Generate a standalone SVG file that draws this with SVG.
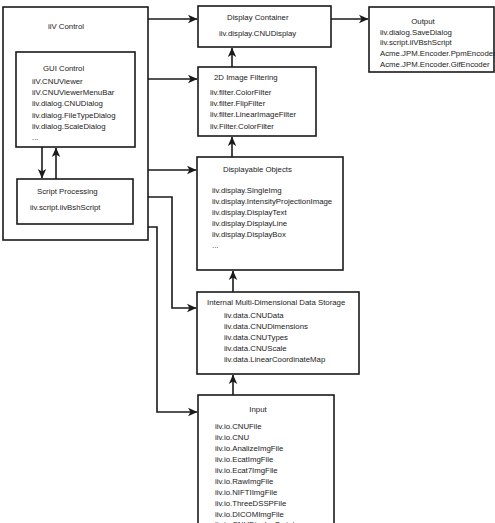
<svg xmlns="http://www.w3.org/2000/svg" width="495" height="523" viewBox="0 0 495 523">
<style>
.box{fill:#fff;stroke:#1a1a1a;stroke-width:1.6}
.t{font-family:"Liberation Sans",Arial,sans-serif;font-size:7.8px;fill:#222}
.c{fill:none;stroke:#1a1a1a;stroke-width:1.6}
</style>
<defs>
<marker id="ah" markerWidth="10" markerHeight="10" refX="9" refY="5" orient="auto" markerUnits="userSpaceOnUse">
<path d="M0,0.8 L9.5,5 L0,9.2 L2.5,5 Z" fill="#1a1a1a"/>
</marker>
</defs>
<rect width="495" height="523" fill="#fff"/>
<g id="iiv-control">
<rect class="box" x="3" y="7" width="145" height="233"/>
<text class="t" x="48" y="29">iiV Control</text>
</g>
<g id="gui-control">
<rect class="box" x="16" y="52" width="119" height="95"/>
<text class="t" x="43" y="71">GUI Control</text>
<text class="t" x="32" y="84">iiV.CNUViewer</text>
<text class="t" x="32" y="95">iiV.CNUViewerMenuBar</text>
<text class="t" x="32" y="106">iiv.dialog.CNUDialog</text>
<text class="t" x="32" y="118">iiv.dialog.FileTypeDialog</text>
<text class="t" x="32" y="129">iiv.dialog.ScaleDialog</text>
<text class="t" x="32" y="140">...</text>
</g>
<g id="script-processing">
<rect class="box" x="17" y="179" width="116" height="45"/>
<text class="t" x="37" y="194">Script Processing</text>
<text class="t" x="30" y="210">iiv.script.iivBshScript</text>
</g>
<g id="display-container">
<rect class="box" x="198" y="6" width="133" height="41"/>
<text class="t" x="227" y="20">Display Container</text>
<text class="t" x="219" y="36">iiv.display.CNUDisplay</text>
</g>
<g id="output">
<rect class="box" x="369" y="7" width="125" height="65"/>
<text class="t" x="423" y="24" text-anchor="middle">Output</text>
<text class="t" x="380" y="35">iiv.dialog.SaveDialog</text>
<text class="t" x="380" y="45">iiv.script.iiVBshScript</text>
<text class="t" x="380" y="56">Acme.JPM.Encoder.PpmEncoder</text>
<text class="t" x="380" y="67">Acme.JPM.Encoder.GifEncoder</text>
</g>
<g id="image-filtering">
<rect class="box" x="198" y="67" width="118" height="69"/>
<text class="t" x="214" y="80">2D Image Filtering</text>
<text class="t" x="210" y="95">iiv.filter.ColorFilter</text>
<text class="t" x="210" y="106">iiv.filter.FlipFilter</text>
<text class="t" x="210" y="117">iiv.filter.LinearImageFilter</text>
<text class="t" x="210" y="129">iiv.Filter.ColorFilter</text>
</g>
<g id="displayable-objects">
<rect class="box" x="197" y="157" width="146" height="113"/>
<text class="t" x="223" y="172">Displayable Objects</text>
<text class="t" x="212" y="193">iiv.display.SingleImg</text>
<text class="t" x="212" y="204">iiv.display.IntensityProjectionImage</text>
<text class="t" x="212" y="215">iiv.display.DisplayText</text>
<text class="t" x="212" y="226">iiv.display.DisplayLine</text>
<text class="t" x="212" y="237">iiv.display.DisplayBox</text>
<text class="t" x="212" y="248">...</text>
</g>
<g id="data-storage">
<rect class="box" x="197" y="292" width="162" height="82"/>
<text class="t" x="207" y="305">Internal Multi-Dimensional Data Storage</text>
<text class="t" x="224" y="318">iiv.data.CNUData</text>
<text class="t" x="224" y="329">iiv.data.CNUDimensions</text>
<text class="t" x="224" y="340">iiv.data.CNUTypes</text>
<text class="t" x="224" y="351">iiv.data.CNUScale</text>
<text class="t" x="224" y="362">iiv.data.LinearCoordinateMap</text>
</g>
<g id="input">
<rect class="box" x="198" y="395" width="136" height="140"/>
<text class="t" x="258" y="412" text-anchor="middle">Input</text>
<text class="t" x="215" y="429">iiv.io.CNUFile</text>
<text class="t" x="215" y="440">iiv.io.CNU</text>
<text class="t" x="215" y="451">iiv.io.AnalizeImgFile</text>
<text class="t" x="215" y="462">iiv.io.EcatImgFile</text>
<text class="t" x="215" y="473">iiv.io.Ecat7ImgFile</text>
<text class="t" x="215" y="484">iiv.io.RawImgFile</text>
<text class="t" x="215" y="495">iiv.io.NIFTIImgFile</text>
<text class="t" x="215" y="506">iiv.io.ThreeDSSPFile</text>
<text class="t" x="215" y="517">iiv.io.DICOMImgFile</text>
<text class="t" x="215" y="527">iiv.io.CNUDisplayScript</text>
</g>
<g id="connectors">
<path class="c" d="M42,147 V178" marker-end="url(#ah)"/>
<path class="c" d="M56,179 V148" marker-end="url(#ah)"/>
<path class="c" d="M148,19 H197" marker-end="url(#ah)"/>
<path class="c" d="M331,19 H368" marker-end="url(#ah)"/>
<path class="c" d="M148,79 H197" marker-end="url(#ah)"/>
<path class="c" d="M148,170 H196" marker-end="url(#ah)"/>
<path class="c" d="M148,197 H172 V308 H196" marker-end="url(#ah)"/>
<path class="c" d="M148,227 H157 V412 H197" marker-end="url(#ah)"/>
<path class="c" d="M232,67 V48" marker-end="url(#ah)"/>
<path class="c" d="M232,157 V137" marker-end="url(#ah)"/>
<path class="c" d="M233,292 V271" marker-end="url(#ah)"/>
<path class="c" d="M233,395 V375" marker-end="url(#ah)"/>
</g>
</svg>
